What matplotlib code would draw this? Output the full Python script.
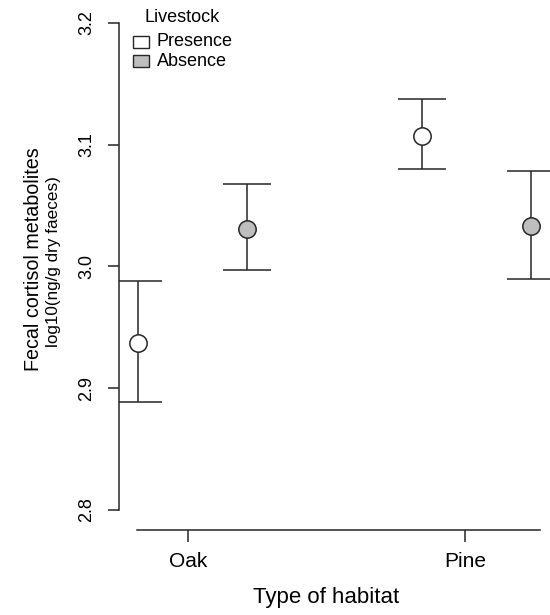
import matplotlib
matplotlib.use("Agg")
import matplotlib.pyplot as plt
from matplotlib.patches import Rectangle

plt.rcParams['font.family'] = ['Liberation Sans', 'DejaVu Sans']

# ---- data ----
habitats = ["Oak", "Pine"]
livestock = ["Presence", "Absence"]
means = {"Presence": [2.937, 3.107], "Absence": [3.031, 3.033]}
upper = {"Presence": [2.988, 3.137], "Absence": [3.068, 3.078]}
lower = {"Presence": [2.889, 3.080], "Absence": [2.997, 2.990]}
yticks = [2.8, 2.9, 3.0, 3.1, 3.2]

# ---- style ----
fills = {"Presence": "white", "Absence": "#bebebe"}
offsets = {"Presence": [-0.178, -0.156], "Absence": [0.214, 0.237]}
ink = "#262626"

W, H = 550, 615
fig = plt.figure(figsize=(W / 100, H / 100), dpi=100)
ax = fig.add_axes([119 / W, 1 - 510 / H, (560 - 119) / W, 487.3 / H])
ax.set_xlim(0.7523, 2.3426)
ax.set_ylim(2.8, 3.2)

xpos = [1, 2]
for grp in livestock:
    xs = [x + o for x, o in zip(xpos, offsets[grp])]
    m = means[grp]
    err = [[a - b for a, b in zip(m, lower[grp])], [b - a for a, b in zip(m, upper[grp])]]
    ax.errorbar(xs, m, yerr=err, fmt='none', ecolor=ink, elinewidth=1.1,
                capsize=17.3, capthick=1.1, zorder=2, clip_on=True)
    ax.plot(xs, m, 'o', ms=12.5, mfc=fills[grp], mec=ink, mew=1.1, zorder=3,
            clip_on=False, linestyle='none')

for s in ['top', 'right']:
    ax.spines[s].set_visible(False)
ax.spines['left'].set_bounds(2.8, 3.2)
ax.spines['bottom'].set_position(('outward', 14.4))
ax.spines['bottom'].set_bounds(0.817, 2.270)
for s in ['left', 'bottom']:
    ax.spines[s].set_color(ink)
    ax.spines[s].set_linewidth(1.1)

ax.set_yticks(yticks)
ax.set_yticklabels([f"{v:.1f}" for v in yticks], rotation=90, va='center', fontsize=13)
ax.set_xticks(xpos)
ax.set_xticklabels(habitats, fontsize=15)
ax.tick_params(axis='y', length=8, width=1.1, color=ink, pad=9, labelcolor='black')
ax.tick_params(axis='x', length=8.5, width=1.1, color=ink, pad=7, labelcolor='black')

# axis titles
fig.text(326 / W, 1 - 597 / H, "Type of habitat", ha='center', va='center', fontsize=16)
fig.text(34 / W, 1 - 259 / H, "Fecal cortisol metabolites", rotation=90,
         ha='center', va='center', fontsize=14.2)
fig.text(54 / W, 1 - 262 / H, "log10(ng/g dry faeces)", rotation=90,
         ha='center', va='center', fontsize=12.3)

# legend (manual, R style)
fig.text(182 / W, 1 - 17 / H, "Livestock", ha='center', va='center', fontsize=13)
box_y = [42, 61]
for grp, yc in zip(livestock, box_y):
    fig.patches.append(Rectangle((133 / W, 1 - (yc + 6) / H), 16 / W, 12 / H,
                                 transform=fig.transFigure, facecolor=fills[grp],
                                 edgecolor=ink, linewidth=1.0))
    fig.text(157 / W, 1 - yc / H, grp, ha='left', va='center', fontsize=13)

fig.savefig("out.png", dpi=100)
